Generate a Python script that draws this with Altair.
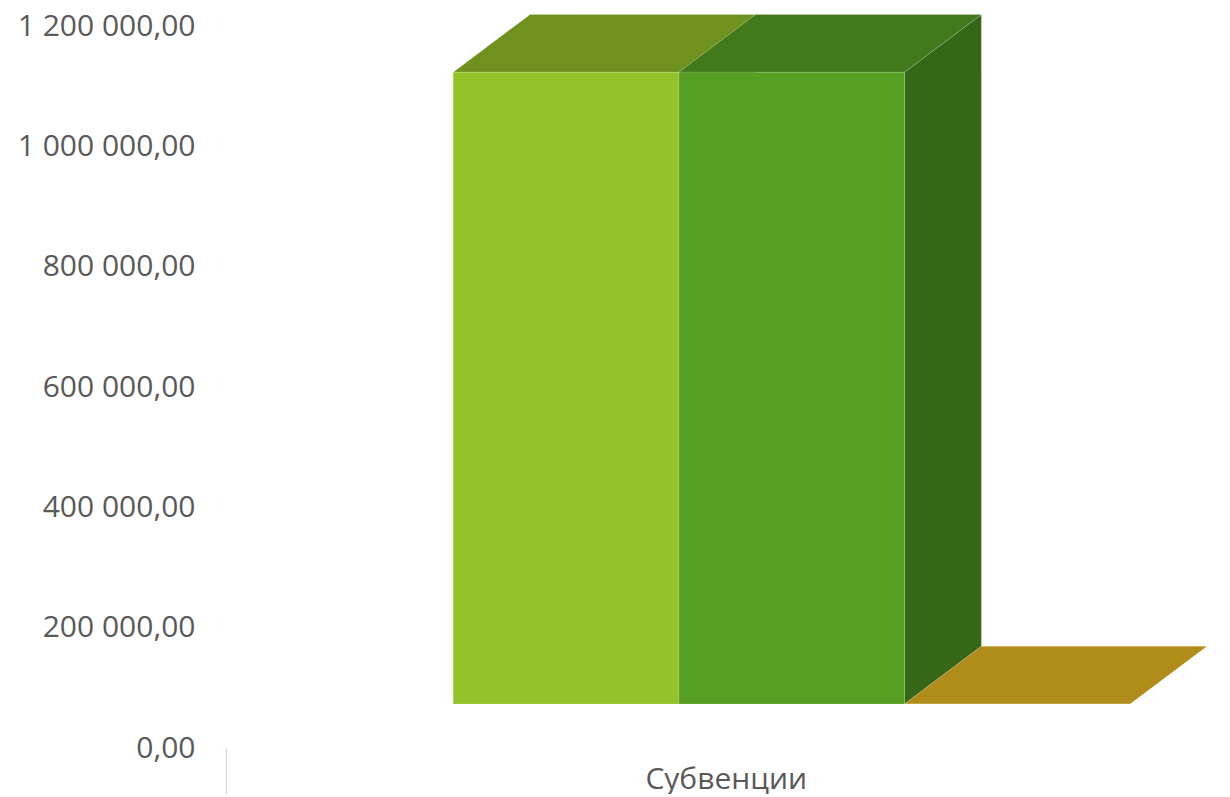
import altair as alt
import pandas as pd

# ---- data ----
categories = ["Субвенции"]
series = ["Ряд 1", "Ряд 2", "Ряд 3"]
values = [1050000, 1050000, 0]
tick_values = [0, 200000, 400000, 600000, 800000, 1000000, 1200000]
tick_labels = ["0,00", "200 000,00", "400 000,00", "600 000,00",
               "800 000,00", "1 000 000,00", "1 200 000,00"]

# ---- styles / layout constants ----
front_colors = ["#93C229", "#55A022", "#C9A21F"]
top_colors = ["#6F921F", "#41791B", "#B08C1A"]
side_colors = ["#5A7A19", "#366716", "#8A6D14"]
GAP = 1.007        # space before first bar (bar widths)
BAR_W = 1.0        # bar width
CAT_W = 4.43       # width of the category band
X_MAX = 4.41       # visible x extent
DX = 0.341         # depth offset in x (bar widths)
DY = 96000         # depth offset in value units
LIFT = -44         # front plane lift (px)
FONT = "Open Sans"

front_rows, top_rows, side_rows = [], [], []
for i, (s, v) in enumerate(zip(series, values)):
    x0 = GAP + i * BAR_W
    x1 = x0 + BAR_W
    front_rows.append({"series": s, "x0": x0, "x1": x1, "lo": 0, "hi": v})
    for x, lo, hi in [(x0, v, v), (x0 + DX, v, v + DY), (x1, v, v + DY), (x1 + DX, v + DY, v + DY)]:
        top_rows.append({"series": s, "x": x, "lo": lo, "hi": hi})
    for x, lo, hi in [(x1, 0, v), (x1 + DX, DY, v + DY)]:
        side_rows.append({"series": s, "x": x, "lo": lo, "hi": hi})

front_df = pd.DataFrame(front_rows)
top_df = pd.DataFrame(top_rows)
side_df = pd.DataFrame(side_rows)

xscale = alt.Scale(domain=[0, X_MAX], nice=False, zero=False)
yscale = alt.Scale(domain=[0, 1200000], nice=False)

ylab = "".join(f"datum.value == {v} ? '{l}' : " for v, l in zip(tick_values, tick_labels)) + "''"
xlab = f"datum.value == 0 ? '' : '{categories[0]}'"

xaxis = alt.Axis(
    values=[0, CAT_W / 2], labelExpr=xlab, title=None, domain=False, grid=False,
    tickSize=50, tickColor="#D9D9D9", tickWidth=1.5,
    tickOpacity={"condition": {"test": "datum.value == 0", "value": 1}, "value": 0},
    labelFont=FONT, labelFontSize=30, labelColor="#595959",
    labelPadding=-34, labelBaseline="top")
yaxis = alt.Axis(
    values=tick_values, labelExpr=ylab, title=None, domain=False, grid=False,
    ticks=False, tickSize=0, labelFont=FONT, labelFontSize=30,
    labelColor="#595959", labelPadding=31)

side = alt.Chart(side_df).mark_area(
    yOffset=LIFT, y2Offset=LIFT, interpolate="linear",
    stroke="#ffffff", strokeOpacity=0.15, strokeWidth=1
).encode(
    x=alt.X("x:Q", scale=xscale, axis=xaxis),
    y=alt.Y("lo:Q", scale=yscale, axis=yaxis),
    y2="hi:Q",
    color=alt.Color("series:N", scale=alt.Scale(domain=series, range=side_colors), legend=None),
    detail="series:N",
)

top = alt.Chart(top_df).mark_area(
    yOffset=LIFT, y2Offset=LIFT, interpolate="linear",
    stroke="#ffffff", strokeOpacity=0.15, strokeWidth=1
).encode(
    x=alt.X("x:Q", scale=xscale, axis=xaxis),
    y=alt.Y("lo:Q", scale=yscale, axis=yaxis),
    y2="hi:Q",
    fill=alt.Fill("series:N", scale=alt.Scale(domain=series, range=top_colors), legend=None),
    detail="series:N",
)

front = alt.Chart(front_df).mark_rect(
    yOffset=LIFT, y2Offset=LIFT, stroke="#ffffff", strokeOpacity=0.15, strokeWidth=1
).encode(
    x=alt.X("x0:Q", scale=xscale, axis=xaxis),
    x2="x1:Q",
    y=alt.Y("lo:Q", scale=yscale, axis=yaxis),
    y2="hi:Q",
    fill=alt.Fill("series:N", scale=alt.Scale(domain=series, range=front_colors), legend=None),
)

chart = alt.layer(side, top, front).resolve_scale(color="independent", fill="independent").properties(
    width=995, height=722,
    autosize=alt.AutoSizeParams(type="none"),
    padding={"left": 218, "top": 18, "right": 0, "bottom": 46},
).configure_view(stroke=None)

chart.save("out.html", embed_options={"renderer": "svg", "actions": False})
